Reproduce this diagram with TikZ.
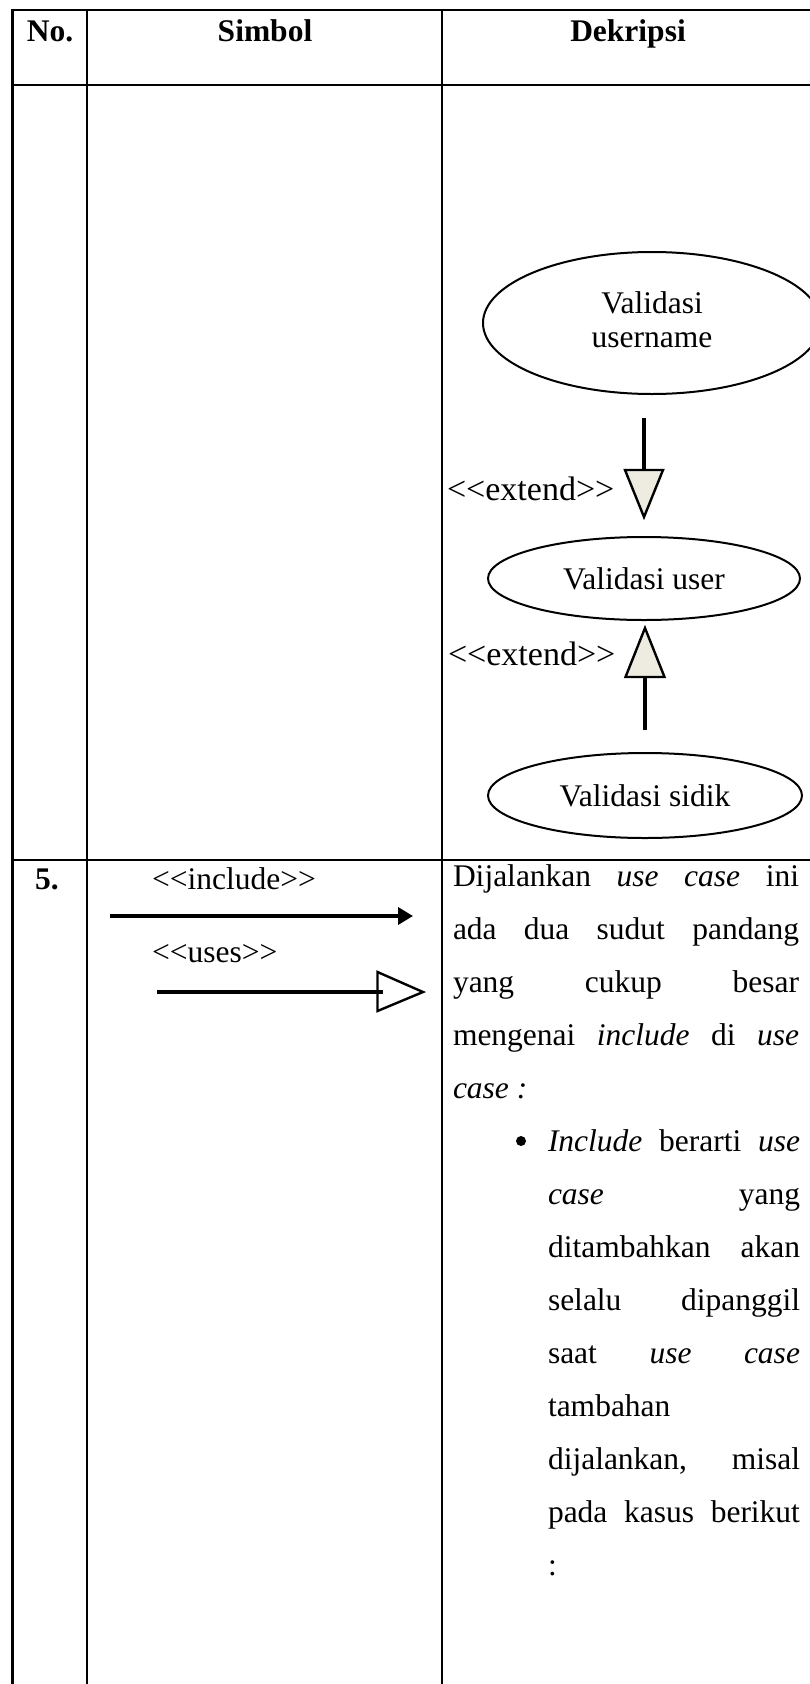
\documentclass[tikz,border=0pt]{standalone}
\usepackage{fontspec}
\setmainfont{Liberation Serif}
\usetikzlibrary{arrows.meta,shapes.geometric}
\definecolor{tribeige}{HTML}{EEECE1}
\newcommand{\bodysize}{\fontsize{31.5pt}{35pt}\selectfont}
% guillemet-free stereotype brackets
\newcommand{\stereo}[1]{<\kern0pt<#1>\kern0pt>}
\tikzset{
  grid/.style={line width=2.6pt, line cap=rect},
  txt/.style={inner sep=0pt, outer sep=0pt, font=\bodysize, anchor=base west},
  exttxt/.style={txt, font=\fontsize{34pt}{38pt}\selectfont},
  hdr/.style={inner sep=0pt, outer sep=0pt, font=\bodysize\bfseries, anchor=base},
  usecase/.style={draw, ellipse, line width=2pt, inner sep=0pt, font=\bodysize, align=center},
  relline/.style={line width=3.6pt},
  tri/.style={line width=2.4pt, line join=miter},
  bulletdot/.style={circle, fill, inner sep=0pt, minimum size=10pt},
}
\begin{document}
\begin{tikzpicture}[x=1pt,y=-1pt]
\useasboundingbox (0,0) rectangle (809,1684);

% table rules
\draw[grid] (12.5,10) -- (813,10);
\draw[grid] (12.5,85) -- (813,85);
\draw[grid] (12.5,860) -- (813,860);
\draw[grid] (12.5,10) -- (12.5,1700);
\draw[grid] (87,10) -- (87,1700);
\draw[grid] (442,10) -- (442,1700);
\draw[grid] (813,10) -- (813,1700);

% header
\node[hdr] (hno) at (50,41) {No.};
\node[hdr] (hsim) at (265,41) {Simbol};
\node[hdr] (hdes) at (628,41) {Dekripsi};

% extend example: three use cases
\node[usecase, minimum width=338pt, minimum height=142pt] (uc1) at (652,323)
  {\begin{tabular}{@{}c@{}}Validasi\\[-1pt]username\end{tabular}};
\node[usecase, minimum width=312pt, minimum height=83pt] (uc2) at (644,578.5) {Validasi user};
\node[usecase, minimum width=314pt, minimum height=85pt] (uc3) at (645,795.5) {Validasi sidik};

% extend relation pointing down
\coordinate (e1a) at (644,418);
\coordinate (e1b) at (644,470);
\coordinate (e1l) at (625,470);
\coordinate (e1r) at (663,470);
\coordinate (e1t) at (644,517);
\draw[relline] (e1a) -- (e1b);
\filldraw[tri, fill=tribeige] (e1l) -- (e1r) -- (e1t) -- cycle;
\node[exttxt] (x1) at (447,500) {\stereo{extend}};

% extend relation pointing up
\coordinate (e2a) at (645,730);
\coordinate (e2b) at (645,677);
\coordinate (e2l) at (625.5,677);
\coordinate (e2r) at (664.5,677);
\coordinate (e2t) at (645,628);
\draw[relline] (e2a) -- (e2b);
\filldraw[tri, fill=tribeige] (e2l) -- (e2r) -- (e2t) -- cycle;
\node[exttxt] (x2) at (448,665) {\stereo{extend}};

% row 5
\node[hdr, anchor=base west] (n5) at (35,889) {5.};
\node[txt] (linc) at (152,889) {\stereo{include}};
\coordinate (ia) at (110,916);
\coordinate (ib) at (413,916);
\draw[relline, -{Triangle[length=15pt,width=17pt]}] (ia) -- (ib);
\node[txt] (luse) at (152,962) {\stereo{uses}};
\coordinate (ua) at (157,992);
\coordinate (ub) at (383,992);
\coordinate (ut1) at (377.5,972);
\coordinate (ut2) at (423,992);
\coordinate (ut3) at (377.5,1011);
\draw[relline] (ua) -- (ub);
\draw[tri] (ut1) -- (ut2) -- (ut3) -- cycle;

% description text
\def\bl{886}
\def\ls{53}
\node[txt] (t1) at (453,\bl) {\makebox[346pt][s]{Dijalankan \textit{use case} ini}};
\node[txt] (t2) at (453,\bl+\ls) {\makebox[346pt][s]{ada dua sudut pandang}};
\node[txt] (t3) at (453,\bl+2*\ls) {\makebox[346pt][s]{yang cukup besar}};
\node[txt] (t4) at (453,\bl+3*\ls) {\makebox[346pt][s]{mengenai \textit{include} di \textit{use}}};
\node[txt] (t5) at (453,\bl+4*\ls) {\textit{case :}};
\node[bulletdot] (bul) at (521,\bl+5*\ls-10) {};
\node[txt] (t6) at (548,\bl+5*\ls) {\makebox[252pt][s]{\textit{Include} berarti \textit{use}}};
\node[txt] (t7) at (548,\bl+6*\ls) {\makebox[252pt][s]{\textit{case} yang}};
\node[txt] (t8) at (548,\bl+7*\ls) {\makebox[252pt][s]{ditambahkan akan}};
\node[txt] (t9) at (548,\bl+8*\ls) {\makebox[252pt][s]{selalu dipanggil}};
\node[txt] (t10) at (548,\bl+9*\ls) {\makebox[252pt][s]{saat \textit{use case}}};
\node[txt] (t11) at (548,\bl+10*\ls) {tambahan};
\node[txt] (t12) at (548,\bl+11*\ls) {\makebox[252pt][s]{dijalankan, misal}};
\node[txt] (t13) at (548,\bl+12*\ls) {\makebox[252pt][s]{pada kasus berikut}};
\node[txt] (t14) at (548,\bl+13*\ls) {:};
\end{tikzpicture}
\end{document}
